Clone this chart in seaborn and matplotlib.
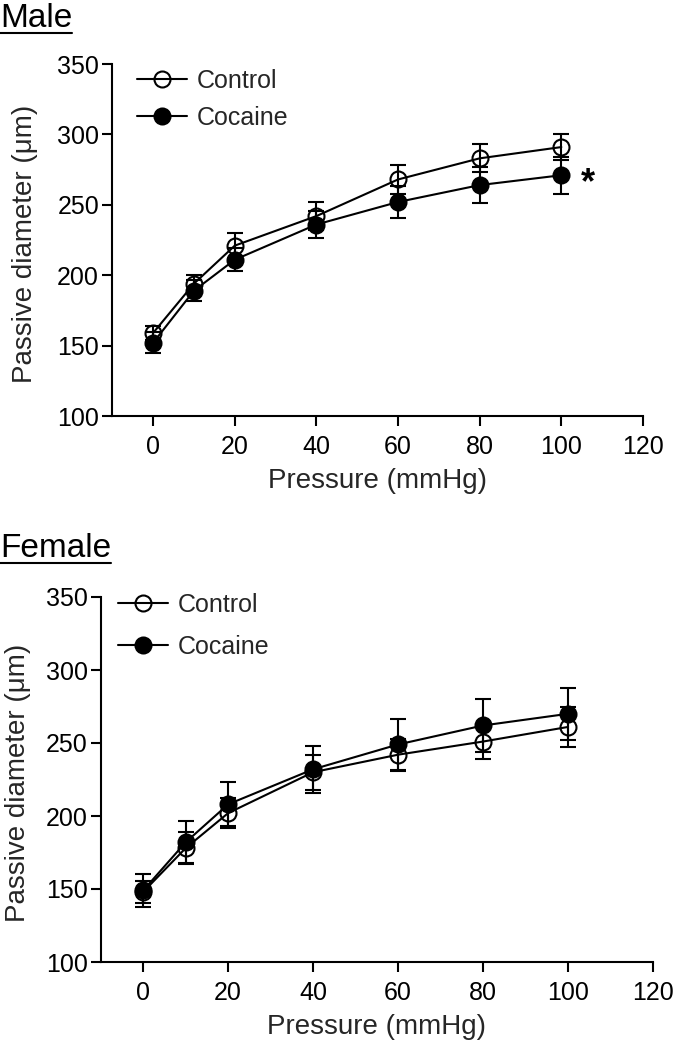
import matplotlib
matplotlib.use('Agg')
import matplotlib.pyplot as plt
from matplotlib.lines import Line2D
import seaborn as sns
import pandas as pd

# Pressão aplicada (mmHg)
pressure = [0, 10, 20, 40, 60, 80, 100]

# Machos: diâmetro passivo (µm), média e EPM
male_control = [159, 194, 221, 242, 268, 283, 291]
male_control_sem = [5, 6, 9, 10, 10, 10, 9]
male_cocaine = [152, 189, 211, 236, 252, 264, 271]
male_cocaine_sem = [7.5, 7.5, 8, 9.5, 11.5, 13, 13]

# Fêmeas
female_control = [148, 178, 202, 230, 242, 251, 261]
female_control_sem = [7.5, 11, 10, 12, 11, 12, 14]
female_cocaine = [149, 182, 208, 232, 249, 262, 270]
female_cocaine_sem = [11.5, 14.5, 15, 16, 17.5, 18, 18]

x_ticks = [0, 20, 40, 60, 80, 100, 120]
y_ticks = [100, 150, 200, 250, 300, 350]

sns.set_style('ticks')
plt.rcParams['font.family'] = ['Liberation Sans', 'DejaVu Sans']

W, H = 674, 1050
fig = plt.figure(figsize=(W / 100, H / 100), dpi=100)


def px_rect(left, top, right, bottom):
    return [left / W, 1 - bottom / H, (right - left) / W, (bottom - top) / H]


def panel(rect, control, control_sem, cocaine, cocaine_sem, legend_pos,
          label_spacing, ylabel_x):
    ax = fig.add_axes(rect)
    df = pd.DataFrame({'Pressure': pressure, 'Control': control,
                       'Cocaine': cocaine})
    sns.lineplot(data=df, x='Pressure', y='Control', ax=ax, color='black',
                 lw=1.5, marker='o', markersize=11.5, markerfacecolor='none',
                 markeredgecolor='black', markeredgewidth=1.5, label='Control',
                 zorder=3)
    ax.errorbar(pressure, control, yerr=control_sem, fmt='none',
                ecolor='black', elinewidth=1.5, capsize=5.5, capthick=1.5,
                zorder=2)
    sns.lineplot(data=df, x='Pressure', y='Cocaine', ax=ax, color='black',
                 lw=1.5, marker='o', markersize=11.5, markerfacecolor='black',
                 markeredgecolor='black', markeredgewidth=1.5, label='Cocaine',
                 zorder=5)
    ax.errorbar(pressure, cocaine, yerr=cocaine_sem, fmt='none',
                ecolor='black', elinewidth=1.5, capsize=5.5, capthick=1.5,
                zorder=4)

    ax.set_xlim(-10, 120)
    ax.set_ylim(100, 350)
    ax.set_xticks(x_ticks)
    ax.set_yticks(y_ticks)
    ax.tick_params(axis='both', length=7.5, width=1.5, labelsize=18,
                   color='black', labelcolor='black', direction='out')
    ax.tick_params(axis='x', pad=6)
    ax.tick_params(axis='y', pad=2)
    for side in ['left', 'bottom']:
        ax.spines[side].set_linewidth(1.5)
        ax.spines[side].set_color('black')
    sns.despine(ax=ax)

    ax.set_xlabel('Pressure (mmHg)', fontsize=20, labelpad=7)
    ax.set_ylabel('Passive diameter (\u03bcm)', fontsize=20)
    ax.yaxis.set_label_coords(ylabel_x, 0.49)

    handles, labels = ax.get_legend_handles_labels()
    ax.legend(handles, labels, loc='upper left',
              bbox_to_anchor=(legend_pos[0] / W, 1 - legend_pos[1] / H),
              bbox_transform=fig.transFigure, frameon=False, fontsize=18,
              handlelength=2.0, handletextpad=0.4, labelspacing=label_spacing,
              borderpad=0, borderaxespad=0)
    return ax


ax1 = panel(px_rect(112.3, 64, 643, 416), male_control, male_control_sem,
            male_cocaine, male_cocaine_sem, (137, 69), 0.52, -0.14)
ax1.text(106.6, 265, '*', fontsize=26, fontweight='bold', ha='center',
         va='center', color='black')

ax2 = panel(px_rect(100.7, 597, 653, 962), female_control, female_control_sem,
            female_cocaine, female_cocaine_sem, (118, 593), 0.72, -0.126)

# Títulos sublinhados
for title, baseline in [('Male', 27), ('Female', 556.7)]:
    t = fig.text(0, 1 - baseline / H, title, fontsize=24, ha='left',
                 va='baseline', color='black')
    fig.canvas.draw()
    bb = t.get_window_extent()
    y_line = 1 - (baseline + 6) / H
    fig.add_artist(Line2D([bb.x0 / W, bb.x1 / W], [y_line, y_line],
                          color='black', lw=1.5, transform=fig.transFigure))

fig.savefig('out.png', dpi=100)
